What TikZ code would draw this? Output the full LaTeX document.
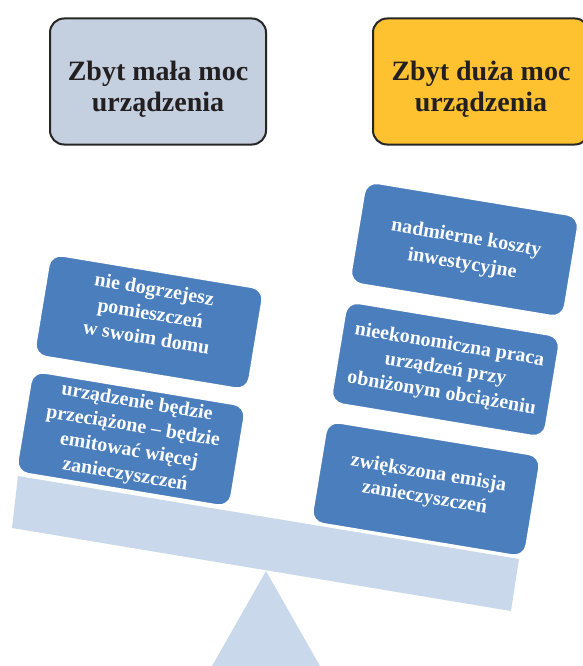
\documentclass[tikz,border=0pt]{standalone}
\usepackage{fontspec}
\setmainfont{Liberation Serif}
\usetikzlibrary{calc}
\definecolor{beamcol}{HTML}{C9D9EB}
\definecolor{cardblue}{HTML}{4A7EBD}
\definecolor{hdrgray}{HTML}{C4D0DF}
\definecolor{hdrorange}{HTML}{FEC12F}
\definecolor{hdrline}{HTML}{262626}
\definecolor{txtdark}{HTML}{231F20}
\begin{document}
\begin{tikzpicture}[x=1pt,y=1pt,
  hdr/.style={draw=hdrline, line width=2pt, rounded corners=14pt,
    minimum width=216pt, minimum height=126pt, inner sep=0pt},
  hdrtext/.style={align=center, font=\bfseries\fontsize{28}{31}\selectfont,
    text=txtdark, inner sep=0pt},
  card/.style={fill=cardblue, draw=white, line width=1.5pt, rounded corners=12pt,
    minimum width=216pt, minimum height=102pt, rotate=-9.4, inner sep=0pt},
  cardtext/.style={rotate=-9.4, align=center, text=white, inner sep=0pt,
    font=\bfseries\fontsize{20}{24.5}\selectfont}]
\useasboundingbox (0,0) rectangle (582,-666);
% support and beam
\fill[beamcol] (266,-571) -- (320,-666) -- (212,-666) -- cycle;
\fill[beamcol] (18,-476) -- (519,-559) -- (511,-611) -- (12,-528) -- cycle;
% headers
\node[hdr, fill=hdrgray] (h1) at (158,-81.5) {};
\node[hdrtext] (h1t) at ([yshift=-8pt]h1.center) {Zbyt mała moc\\urządzenia};
\node[hdr, fill=hdrorange] (h2) at (481,-81.5) {};
\node[hdrtext] (h2t) at ([yshift=-8pt]h2.center) {Zbyt duża moc\\urządzenia};
% left cards
\node[card] (l1) at (149,-322) {};
\node[cardtext] (l1t) at ($(l1.center)!9pt!(l1.north)$) {nie dogrzejesz\\pomieszczeń\\w swoim domu};
\node[card] (l2) at (131,-439) {};
\node[cardtext] (l2t) at (l2.center) {urządzenie będzie\\przeciążone – będzie\\emitować więcej\\zanieczyszczeń};
% right cards
\node[card] (r1) at (464.5,-249.5) {};
\node[cardtext, font=\bfseries\fontsize{20}{26}\selectfont] (r1t) at ($(r1.center)!-2pt!(r1.north)$) {nadmierne koszty\\inwestycyjne};
\node[card] (r2) at (445.5,-369.5) {};
\node[cardtext] (r2t) at (r2.center) {nieekonomiczna praca\\urządzeń przy\\obniżonym obciążeniu};
\node[card] (r3) at (426,-489) {};
\node[cardtext] (r3t) at ($(r3.center)!3pt!(r3.north)$) {zwiększona emisja\\zanieczyszczeń};
\end{tikzpicture}
\end{document}
